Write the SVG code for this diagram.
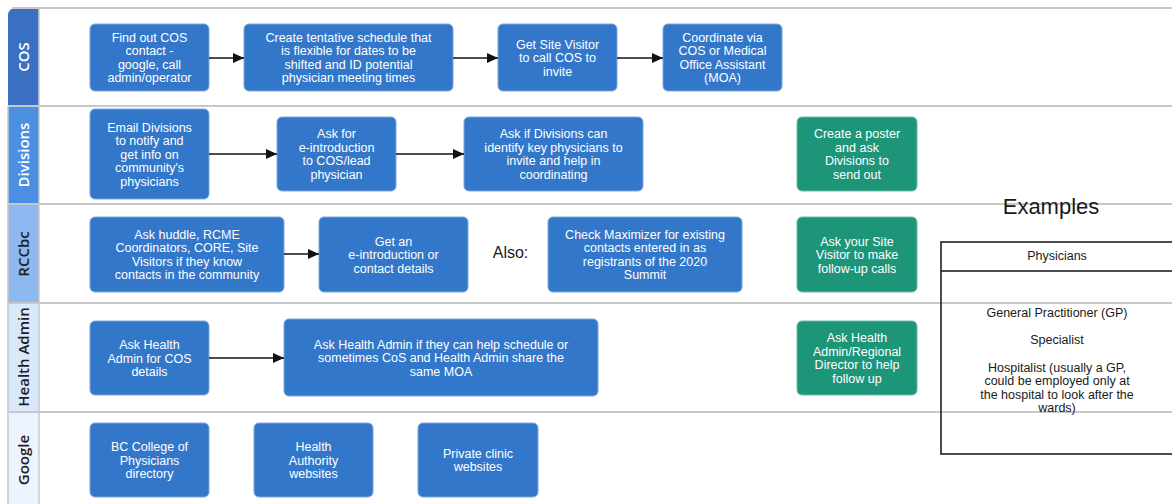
<svg xmlns="http://www.w3.org/2000/svg" width="1172" height="504" viewBox="0 0 1172 504">
  <defs>
    <marker id="arrow" markerUnits="userSpaceOnUse" markerWidth="12" markerHeight="10" refX="11" refY="5" orient="auto">
      <path d="M0,0 L11,5 L0,10 Z" fill="#111"/>
    </marker>
    <style>
      .lane-line { stroke: #c8c8c8; stroke-width: 2; fill: none; }
      .hdr-border { stroke: #c8c8c8; stroke-width: 1.5; }
      .lane-label { font-family: "Open Sans", "Liberation Sans", sans-serif; font-weight: 600; font-size: 15px; text-anchor: middle; }
      .step { fill: #3377cb; stroke: #7fa6dc; stroke-width: 1; }
      .alt { fill: #1d9579; stroke: #6fbba8; stroke-width: 1; }
      .step-text { font-family: "Liberation Sans", Arial, sans-serif; font-size: 12.5px; fill: #ffffff; text-anchor: middle; }
      .conn { stroke: #111; stroke-width: 1.3; fill: none; marker-end: url(#arrow); }
      .plain { font-family: "Liberation Sans", Arial, sans-serif; fill: #1a1a1a; text-anchor: middle; }
    </style>
  </defs>

  <rect width="1172" height="504" fill="#ffffff"/>

  <!-- swimlane headers -->
  <g id="lane-cos">
    <path d="M8,106 L8,16 Q8,8 16,8 L39,8 L39,106 Z" fill="#3a70c2"/>
    <text class="lane-label" fill="#ffffff" transform="translate(29,57) rotate(-90)">COS</text>
  </g>
  <g id="lane-divisions">
    <rect x="8" y="106" width="31" height="98" fill="#4a8fe2"/>
    <text class="lane-label" fill="#ffffff" transform="translate(29,155) rotate(-90)">Divisions</text>
  </g>
  <g id="lane-rccbc">
    <rect x="8" y="204" width="31" height="99" fill="#8db8f0"/>
    <text class="lane-label" fill="#1e1e1e" transform="translate(29,254) rotate(-90)">RCCbc</text>
  </g>
  <g id="lane-health-admin">
    <rect x="8" y="303" width="31" height="109" fill="#dae8fb"/>
    <text class="lane-label" fill="#1e1e1e" transform="translate(29,357) rotate(-90)">Health Admin</text>
  </g>
  <g id="lane-google">
    <rect x="8" y="412" width="31" height="92" fill="#edf4fd"/>
    <text class="lane-label" fill="#1e1e1e" transform="translate(29,460) rotate(-90)">Google</text>
  </g>

  <!-- lane separators -->
  <g id="lane-lines">
    <line class="lane-line" x1="12" y1="8" x2="1172" y2="8"/>
    <line class="lane-line" x1="8" y1="106" x2="1172" y2="106"/>
    <line class="lane-line" x1="8" y1="204" x2="1172" y2="204"/>
    <line class="lane-line" x1="8" y1="303" x2="1172" y2="303"/>
    <line class="lane-line" x1="8" y1="412" x2="1172" y2="412"/>
    <line class="hdr-border" x1="8" y1="106" x2="8" y2="504"/>
    <line class="hdr-border" x1="39" y1="8" x2="39" y2="504"/>
  </g>

  <!-- COS lane -->
  <g id="n-find-cos">
    <rect class="step" x="90" y="24" width="119" height="67" rx="5"/>
    <text class="step-text" x="149.5" y="41.75"><tspan x="149.5">Find out COS</tspan><tspan x="149.5" dy="13.5">contact -</tspan><tspan x="149.5" dy="13.5">google, call</tspan><tspan x="149.5" dy="13.5">admin/operator</tspan></text>
  </g>
  <g id="n-schedule">
    <rect class="step" x="244" y="24" width="209" height="67" rx="5"/>
    <text class="step-text" x="348.5" y="41.75"><tspan x="348.5">Create tentative schedule that</tspan><tspan x="348.5" dy="13.5">is flexible for dates to be</tspan><tspan x="348.5" dy="13.5">shifted and ID potential</tspan><tspan x="348.5" dy="13.5">physician meeting times</tspan></text>
  </g>
  <g id="n-site-visitor-call">
    <rect class="step" x="498" y="24" width="119" height="67" rx="5"/>
    <text class="step-text" x="557.5" y="48.5"><tspan x="557.5">Get Site Visitor</tspan><tspan x="557.5" dy="13.5">to call COS to</tspan><tspan x="557.5" dy="13.5">invite</tspan></text>
  </g>
  <g id="n-coordinate">
    <rect class="step" x="663" y="24" width="119" height="67" rx="5"/>
    <text class="step-text" x="722.5" y="41.75"><tspan x="722.5">Coordinate via</tspan><tspan x="722.5" dy="13.5">COS or Medical</tspan><tspan x="722.5" dy="13.5">Office Assistant</tspan><tspan x="722.5" dy="13.5">(MOA)</tspan></text>
  </g>

  <!-- Divisions lane -->
  <g id="n-email-divisions">
    <rect class="step" x="90" y="109" width="119" height="90" rx="5"/>
    <text class="step-text" x="149.5" y="131.5"><tspan x="149.5">Email Divisions</tspan><tspan x="149.5" dy="13.5">to notify and</tspan><tspan x="149.5" dy="13.5">get info on</tspan><tspan x="149.5" dy="13.5">community's</tspan><tspan x="149.5" dy="13.5">physicians</tspan></text>
  </g>
  <g id="n-ask-intro">
    <rect class="step" x="277" y="117" width="119" height="74" rx="5"/>
    <text class="step-text" x="336.5" y="138.25"><tspan x="336.5">Ask for</tspan><tspan x="336.5" dy="13.5">e-introduction</tspan><tspan x="336.5" dy="13.5">to COS/lead</tspan><tspan x="336.5" dy="13.5">physician</tspan></text>
  </g>
  <g id="n-identify-key">
    <rect class="step" x="464" y="117" width="179" height="74" rx="5"/>
    <text class="step-text" x="553.5" y="138.25"><tspan x="553.5">Ask if Divisions can</tspan><tspan x="553.5" dy="13.5">identify key physicians to</tspan><tspan x="553.5" dy="13.5">invite and help in</tspan><tspan x="553.5" dy="13.5">coordinating</tspan></text>
  </g>
  <g id="n-poster">
    <rect class="alt" x="797" y="117" width="120" height="74" rx="5"/>
    <text class="step-text" x="857" y="138.25"><tspan x="857">Create a poster</tspan><tspan x="857" dy="13.5">and ask</tspan><tspan x="857" dy="13.5">Divisions to</tspan><tspan x="857" dy="13.5">send out</tspan></text>
  </g>

  <!-- RCCbc lane -->
  <g id="n-ask-huddle">
    <rect class="step" x="90" y="217" width="194" height="75" rx="5"/>
    <text class="step-text" x="187" y="238.75"><tspan x="187">Ask huddle, RCME</tspan><tspan x="187" dy="13.5">Coordinators, CORE, Site</tspan><tspan x="187" dy="13.5">Visitors if they know</tspan><tspan x="187" dy="13.5">contacts in the community</tspan></text>
  </g>
  <g id="n-get-intro">
    <rect class="step" x="319" y="217" width="149" height="75" rx="5"/>
    <text class="step-text" x="393.5" y="245.5"><tspan x="393.5">Get an</tspan><tspan x="393.5" dy="13.5">e-introduction or</tspan><tspan x="393.5" dy="13.5">contact details</tspan></text>
  </g>
  <g id="t-also">
    <text class="plain" x="510.5" y="257.5" font-size="16">Also:</text>
  </g>
  <g id="n-maximizer">
    <rect class="step" x="548" y="217" width="194" height="75" rx="5"/>
    <text class="step-text" x="645" y="238.75"><tspan x="645">Check Maximizer for existing</tspan><tspan x="645" dy="13.5">contacts entered in as</tspan><tspan x="645" dy="13.5">registrants of the 2020</tspan><tspan x="645" dy="13.5">Summit</tspan></text>
  </g>
  <g id="n-follow-up-calls">
    <rect class="alt" x="797" y="217" width="120" height="75" rx="5"/>
    <text class="step-text" x="857" y="245.5"><tspan x="857">Ask your Site</tspan><tspan x="857" dy="13.5">Visitor to make</tspan><tspan x="857" dy="13.5">follow-up calls</tspan></text>
  </g>

  <!-- Health Admin lane -->
  <g id="n-admin-cos">
    <rect class="step" x="90" y="321" width="119" height="74" rx="5"/>
    <text class="step-text" x="149.5" y="349"><tspan x="149.5">Ask Health</tspan><tspan x="149.5" dy="13.5">Admin for COS</tspan><tspan x="149.5" dy="13.5">details</tspan></text>
  </g>
  <g id="n-admin-schedule">
    <rect class="step" x="284" y="319" width="314" height="77" rx="5"/>
    <text class="step-text" x="441" y="348.5"><tspan x="441">Ask Health Admin if they can help schedule or</tspan><tspan x="441" dy="13.5">sometimes CoS and Health Admin share the</tspan><tspan x="441" dy="13.5">same MOA</tspan></text>
  </g>
  <g id="n-regional-director">
    <rect class="alt" x="797" y="321" width="120" height="74" rx="5"/>
    <text class="step-text" x="857" y="342.25"><tspan x="857">Ask Health</tspan><tspan x="857" dy="13.5">Admin/Regional</tspan><tspan x="857" dy="13.5">Director to help</tspan><tspan x="857" dy="13.5">follow up</tspan></text>
  </g>

  <!-- Google lane -->
  <g id="n-bc-college">
    <rect class="step" x="90" y="423" width="119" height="74" rx="5"/>
    <text class="step-text" x="149.5" y="451"><tspan x="149.5">BC College of</tspan><tspan x="149.5" dy="13.5">Physicians</tspan><tspan x="149.5" dy="13.5">directory</tspan></text>
  </g>
  <g id="n-health-authority">
    <rect class="step" x="254" y="423" width="119" height="74" rx="5"/>
    <text class="step-text" x="313.5" y="451"><tspan x="313.5">Health</tspan><tspan x="313.5" dy="13.5">Authority</tspan><tspan x="313.5" dy="13.5">websites</tspan></text>
  </g>
  <g id="n-private-clinic">
    <rect class="step" x="418" y="423" width="120" height="74" rx="5"/>
    <text class="step-text" x="478" y="457.75"><tspan x="478">Private clinic</tspan><tspan x="478" dy="13.5">websites</tspan></text>
  </g>

  <!-- connectors -->
  <g id="connectors">
    <line class="conn" x1="209" y1="58" x2="244" y2="58"/>
    <line class="conn" x1="453" y1="58" x2="498" y2="58"/>
    <line class="conn" x1="617" y1="58" x2="663" y2="58"/>
    <line class="conn" x1="209" y1="154" x2="277" y2="154"/>
    <line class="conn" x1="396" y1="154" x2="464" y2="154"/>
    <line class="conn" x1="284" y1="254" x2="319" y2="254"/>
    <line class="conn" x1="209" y1="358" x2="284" y2="358"/>
  </g>

  <!-- examples table -->
  <g id="examples">
    <text class="plain" x="1051" y="214" font-size="22">Examples</text>
    <rect x="941" y="242" width="232" height="212" fill="none" stroke="#111" stroke-width="1.5"/>
    <line x1="941" y1="271" x2="1173" y2="271" stroke="#111" stroke-width="1.5"/>
    <text class="plain" x="1057" y="260" font-size="12.5">Physicians</text>
    <text class="plain" x="1057" y="317" font-size="12.5"><tspan x="1057">General Practitioner (GP)</tspan><tspan x="1057" dy="27">Specialist</tspan><tspan x="1057" dy="27.5">Hospitalist (usually a GP,</tspan><tspan x="1057" dy="13.5">could be employed only at</tspan><tspan x="1057" dy="13.5">the hospital to look after the</tspan><tspan x="1057" dy="13.5">wards)</tspan></text>
  </g>
</svg>
